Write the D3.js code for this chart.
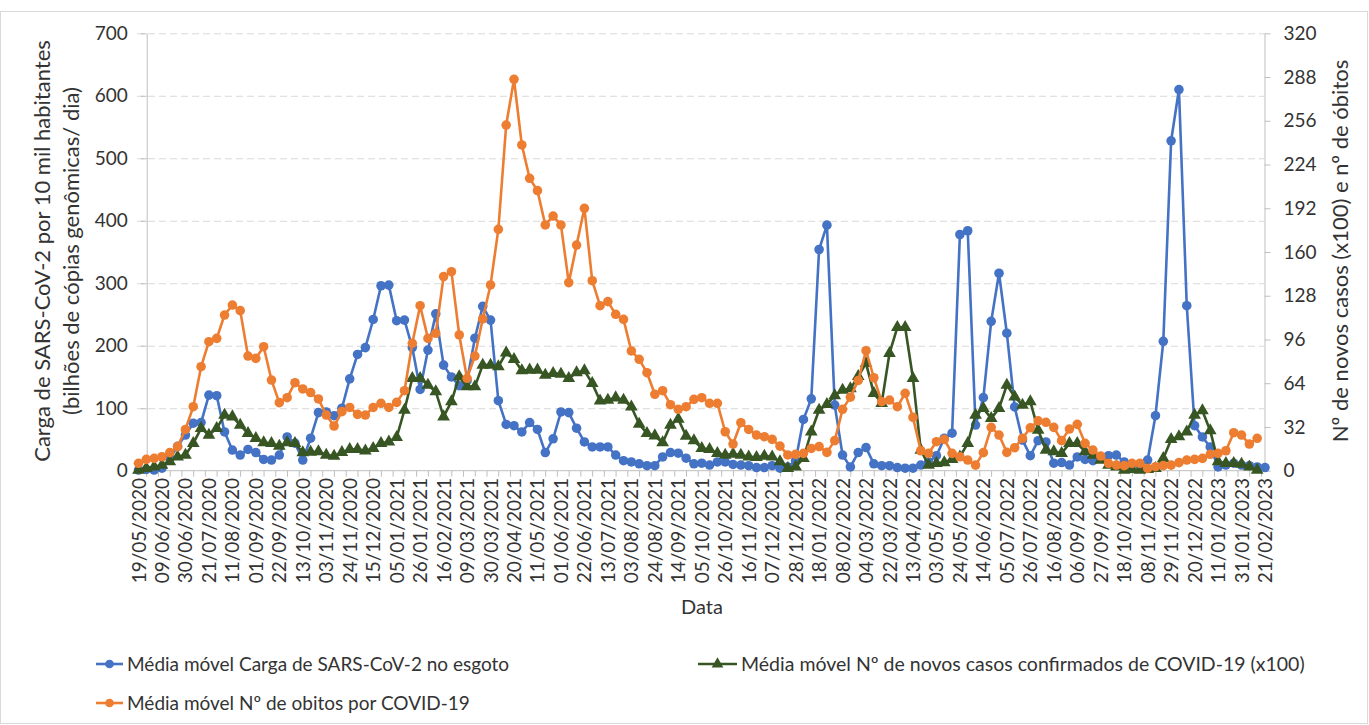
<!DOCTYPE html>
<html lang="pt">
  <head>
    <meta charset="UTF-8" />
    <title>Carga de SARS-CoV-2 no esgoto, casos e óbitos</title>
    <script src="https://d3js.org/d3.v7.min.js"></script>
    <style>
      body { margin: 0; background: #fff; }
      svg text { font-family: Lato, "Open Sans", sans-serif; fill: #333; }
    </style>
  </head>
  <body>
    <svg id="chart" width="1369" height="725"></svg>
    <script>
      // Tick labels along the category axis (every third weekly point)
      const tickLabels = [
        "19/05/2020", "09/06/2020", "30/06/2020", "21/07/2020", "11/08/2020", "01/09/2020",
        "22/09/2020", "13/10/2020", "03/11/2020", "24/11/2020", "15/12/2020", "05/01/2021",
        "26/01/2021", "16/02/2021", "09/03/2021", "30/03/2021", "20/04/2021", "11/05/2021",
        "01/06/2021", "22/06/2021", "13/07/2021", "03/08/2021", "24/08/2021", "14/09/2021",
        "05/10/2021", "26/10/2021", "16/11/2021", "07/12/2021", "28/12/2021", "18/01/2022",
        "08/02/2022", "04/03/2022", "22/03/2022", "13/04/2022", "03/05/2022", "24/05/2022",
        "14/06/2022", "05/07/2022", "26/07/2022", "16/08/2022", "06/09/2022", "27/09/2022",
        "18/10/2022", "08/11/2022", "29/11/2022", "20/12/2022", "11/01/2023", "31/01/2023",
        "21/02/2023"
      ];

      // Média móvel carga de SARS-CoV-2 no esgoto (eixo esquerdo)
      const carga = [
        1, 2, 1, 4, 20, 39, 57, 76, 77, 121, 120, 62, 33, 25, 34, 29, 18, 17, 25, 54,
        44, 17, 52, 93, 94, 88, 100, 147, 186, 197, 242, 296, 297, 240, 241, 197, 130, 193, 251, 169,
        150, 136, 144, 212, 263, 241, 112, 74, 72, 62, 77, 66, 29, 51, 94, 93, 68, 46, 38, 38,
        38, 25, 16, 14, 11, 8, 8, 22, 29, 28, 20, 11, 12, 9, 14, 14, 10, 9, 8, 5,
        5, 8, 4, 6, 16, 82, 115, 354, 393, 105, 25, 6, 29, 37, 11, 8, 8, 5, 4, 4,
        9, 14, 24, 52, 60, 378, 384, 73, 117, 239, 316, 220, 102, 49, 24, 48, 46, 12, 13, 9,
        22, 18, 16, 22, 24, 25, 14, 10, 9, 17, 88, 207, 528, 610, 264, 72, 54, 38, 6, 9,
        12, 9, 8, 6, 5
      ];

      // Média móvel nº de novos casos confirmados (x100) (eixo direito)
      const casos = [
        0.5, 1.7, 2.9, 4.1, 6.6, 10.2, 11.5, 20, 31, 26.1, 31, 40.7, 39.5, 33.4, 27.3, 23.7, 20.5, 20, 18, 20.5,
        20, 13.2, 13.6, 13.9, 11.5, 10.7, 13.4, 15.6, 15.6, 14.6, 16.3, 20, 21.2, 24.4, 44.4, 67.6, 67.6, 62.7, 57.8, 39.5,
        50.5, 68.8, 61.5, 61.5, 77.3, 77.3, 76.1, 86.3, 81.5, 73.2, 73.7, 73.7, 70, 71.2, 70.7, 67.6, 71.7, 73.2, 63.9, 51.2,
        51.7, 53.4, 51.7, 46.8, 34.1, 27.3, 25.6, 20.5, 33.4, 37.7, 25.4, 22, 16.3, 15.6, 12.7, 11.5, 12.2, 11.5, 10.2, 9.8,
        10.7, 10.2, 6.6, 1.7, 2.9, 9, 28.5, 44.4, 48.5, 54.9, 59, 60, 69, 78.5, 56.6, 49.3, 85.9, 104.9, 104.9, 67.6,
        15.1, 4.1, 5.4, 5.9, 8.3, 10.2, 20, 40.7, 45.6, 38.3, 45.6, 62.7, 54.1, 48, 50.5, 29.8, 15.1, 13.9, 12.7, 20,
        20, 13.9, 11.5, 7.8, 4.1, 2.9, 0.5, 1, 0.5, 1, 1.7, 9, 22.9, 24.9, 28.5, 40.7, 43.9, 29.3, 6.6, 5.4,
        5.4, 4.9, 2.9, 0.5, null
      ];

      // Média móvel nº de óbitos (eixo direito)
      const obitos = [
        5.4, 8.3, 9, 10.2, 13.2, 17.6, 30.2, 46.8, 76.1, 94.4, 96.8, 113.9, 121.2, 117.1, 83.9, 82.2, 90.7, 66.3, 49.8, 53.4,
        64.4, 59.8, 57.2, 52.5, 40.7, 32.7, 43.2, 46.3, 41.2, 40.7, 46.3, 49.3, 46.3, 50, 58.5, 93.2, 120.7, 96.8, 100.5, 142,
        145.6, 99.3, 67.6, 83.9, 111, 135.9, 176.6, 252.9, 286.3, 238.3, 213.9, 204.9, 179.8, 186.3, 179.8, 137.6, 165.1, 192, 139, 120.7,
        123.7, 114.4, 110.7, 87.6, 81.5, 71.7, 55.9, 58.5, 48.3, 44.9, 46.8, 52.2, 53.4, 49.3, 49.3, 28.5, 19.5, 35.1, 30.2, 26.1,
        24.9, 22.9, 18, 11.5, 12, 12.7, 16.3, 17.6, 13.4, 22, 44.9, 53.8, 66, 87.8, 68, 50.5, 51.7, 46.8, 56.6, 39,
        14.6, 12.7, 21.2, 22.9, 12.7, 10.2, 7.8, 4.1, 13.2, 31.7, 26.1, 13.4, 16.8, 23.7, 31.4, 36.5, 35.4, 31.7, 22, 30.5,
        33.9, 20, 15.1, 10.7, 5.4, 4.1, 3.7, 5.4, 5.4, 1.7, 2.9, 3.7, 4.1, 5.9, 7.8, 8.3, 9, 12, 12.7, 14.6,
        27.8, 26.1, 19.5, 23.7, null
      ];

      const leftTicks = [0, 100, 200, 300, 400, 500, 600, 700];
      const rightTicks = [0, 32, 64, 96, 128, 160, 192, 224, 256, 288, 320];

      const blue = "#4472c4", green = "#375623", orange = "#ed7d31";
      const axisGray = "#bfbfbf";

      const svg = d3.select("#chart");

      // Outer frame
      svg.append("rect")
        .attr("x", 0.5).attr("y", 11.5)
        .attr("width", 1367).attr("height", 712)
        .attr("fill", "none").attr("stroke", "#d9d9d9");

      // Scales
      const x = d3.scaleLinear().domain([0, carga.length - 1]).range([138.5, 1265]);
      const yL = d3.scaleLinear().domain([0, 700]).range([470.7, 33.3]);
      const yR = d3.scaleLinear().domain([0, 320]).range([470.7, 33.3]);
      const plotLeft = 137, plotRight = 1264.5;
      const leftAxisX = x(1.05);

      // Gridlines
      svg.append("g")
        .attr("transform", `translate(${plotLeft},0)`)
        .call(d3.axisLeft(yL).tickValues(leftTicks.slice(1)).tickSize(-(plotRight - plotLeft)).tickFormat(""))
        .call((g) => g.select(".domain").remove())
        .call((g) => g.selectAll("line").attr("stroke", "#d9d9d9").attr("stroke-dasharray", "7,4"));

      // Left axis
      svg.append("g")
        .attr("transform", `translate(${leftAxisX},0)`)
        .call(d3.axisLeft(yL).tickValues(leftTicks).tickSize(6).tickSizeOuter(0).tickPadding(13))
        .call((g) => g.select(".domain").attr("stroke", axisGray))
        .call((g) => g.selectAll("line").attr("stroke", axisGray))
        .call((g) => g.selectAll("text").style("font-size", "19px").attr("fill", "#333"));

      // Right axis
      svg.append("g")
        .attr("transform", `translate(${plotRight},0)`)
        .call(d3.axisRight(yR).tickValues(rightTicks).tickSize(6).tickSizeOuter(0).tickPadding(13))
        .call((g) => g.select(".domain").attr("stroke", axisGray))
        .call((g) => g.selectAll("line").attr("stroke", axisGray))
        .call((g) => g.selectAll("text").style("font-size", "19px").attr("fill", "#333"));

      // Category axis
      const xAxis = svg.append("g");
      xAxis.append("line")
        .attr("x1", plotLeft).attr("x2", plotRight)
        .attr("y1", yL(0)).attr("y2", yL(0))
        .attr("stroke", axisGray);
      const minorTicks = d3.range(1.05, carga.length, 1.5);
      xAxis.selectAll(".xtick")
        .data(minorTicks)
        .enter()
        .append("line")
        .attr("class", "xtick")
        .attr("x1", (d) => x(d)).attr("x2", (d) => x(d))
        .attr("y1", yL(0)).attr("y2", yL(0) + 6)
        .attr("stroke", axisGray);
      xAxis.selectAll(".xlabel")
        .data(tickLabels)
        .enter()
        .append("text")
        .attr("class", "xlabel")
        .attr("transform", (d, i) => `translate(${x(i * 3) + 7},478) rotate(-90)`)
        .attr("text-anchor", "end")
        .style("font-size", "19px")
        .text((d) => d);

      // Axis titles
      svg.append("text")
        .attr("transform", "translate(50,251) rotate(-90)")
        .attr("text-anchor", "middle")
        .style("font-size", "22px")
        .text("Carga de SARS-CoV-2 por 10 mil habitantes");
      svg.append("text")
        .attr("transform", "translate(79,251) rotate(-90)")
        .attr("text-anchor", "middle")
        .style("font-size", "22px")
        .text("(bilhões de cópias genômicas/ dia)");
      svg.append("text")
        .attr("transform", "translate(1348,251) rotate(-90)")
        .attr("text-anchor", "middle")
        .style("font-size", "22px")
        .text("Nº de novos casos (x100) e nº de óbitos");
      svg.append("text")
        .attr("x", 702).attr("y", 614)
        .attr("text-anchor", "middle")
        .style("font-size", "20px")
        .text("Data");

      // Series
      const series = [
        { name: "Média móvel Carga de SARS-CoV-2 no esgoto", values: carga, y: yL, color: blue, symbol: d3.symbolCircle },
        { name: "Média móvel Nº de novos casos confirmados de COVID-19 (x100)", values: casos, y: yR, color: green, symbol: d3.symbolTriangle },
        { name: "Média móvel Nº de obitos por COVID-19", values: obitos, y: yR, color: orange, symbol: d3.symbolCircle }
      ];

      series.forEach((s) => {
        const pts = s.values.map((v, i) => ({ i, v })).filter((d) => d.v !== null);
        const line = d3.line().x((d) => x(d.i)).y((d) => s.y(d.v));
        svg.append("path")
          .datum(pts)
          .attr("d", line)
          .attr("fill", "none")
          .attr("stroke", s.color)
          .attr("stroke-width", 2.6)
          .attr("stroke-linejoin", "round");
        const sym = d3.symbol().type(s.symbol).size(s.symbol === d3.symbolCircle ? 72 : 70);
        svg.append("g")
          .selectAll("path")
          .data(pts)
          .enter()
          .append("path")
          .attr("transform", (d) => `translate(${x(d.i)},${s.y(d.v)})`)
          .attr("d", sym)
          .attr("fill", s.color);
      });

      // Legend
      const legendPos = [
        { x: 96, y: 664, len: 27 },
        { x: 698, y: 664, len: 39 },
        { x: 96, y: 703, len: 27 }
      ];
      series.forEach((s, k) => {
        const p = legendPos[k];
        const g = svg.append("g").attr("transform", `translate(${p.x},${p.y})`);
        g.append("line")
          .attr("x1", 0).attr("x2", p.len)
          .attr("stroke", s.color).attr("stroke-width", 2.6);
        g.append("path")
          .attr("transform", `translate(${p.len / 2},0)`)
          .attr("d", d3.symbol().type(s.symbol).size(60))
          .attr("fill", s.color);
        g.append("text")
          .attr("x", p.len + 4).attr("dy", "0.35em")
          .style("font-size", k === 1 ? "19.5px" : "19px")
          .text(s.name);
      });
    </script>
  </body>
</html>
